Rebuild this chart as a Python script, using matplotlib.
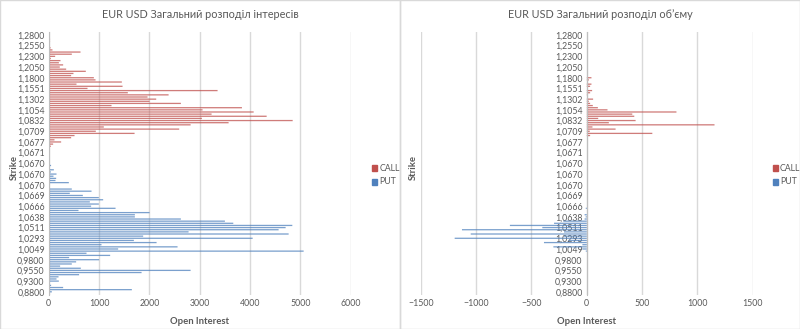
import numpy as np
import matplotlib
matplotlib.use("Agg")
import matplotlib.pyplot as plt
from matplotlib.patches import Rectangle

plt.rcParams['font.family'] = ['Lato', 'DejaVu Sans']

# strike labels shown on the axis (every 5th row, top to bottom)
strike_labels = ['1,2800', '1,2550', '1,2300', '1,2050', '1,1800', '1,1551', '1,1302',
                 '1,1054', '1,0832', '1,0709', '1,0677', '1,0671', '1,0670', '1,0670',
                 '1,0670', '1,0669', '1,0666', '1,0638', '1,0511', '1,0293', '1,0049',
                 '0,9800', '0,9550', '0,9300', '0,8800']

# open interest per strike row, top to bottom
call_oi = [0, 0, 20, 25, 25, 20, 0, 35, 73, 630,
           457, 126, 40, 232, 200, 285, 218, 345, 735, 490,
           444, 895, 928, 1451, 550, 1465, 769, 3353, 1570, 2380,
           1962, 2134, 2002, 2624, 1246, 3837, 3055, 4070, 3234, 4328,
           3042, 4845, 3572, 2817, 1093, 2591, 934, 1704, 511, 444,
           113, 245, 86, 40, 0, 12, 10, 0, 10, 0,
           0, 0, 0, 0, 0, 0, 0, 0, 0, 0,
           0, 0, 0, 0, 0, 0, 0, 0, 0, 0,
           0, 0, 0, 0, 0, 0, 0, 0, 0, 0,
           0, 0, 0, 0, 0, 0, 0, 0, 0, 0,
           0, 0, 0, 0, 0, 0, 0, 0, 0, 0,
           0, 0, 0, 0, 0, 0, 0, 0, 0, 0,
           0, 0, 0]
put_oi = [0, 0, 0, 0, 0, 0, 0, 0, 0, 0,
          0, 0, 0, 0, 0, 0, 0, 0, 0, 0,
          0, 0, 0, 0, 0, 0, 0, 0, 0, 0,
          0, 0, 0, 0, 0, 0, 0, 0, 0, 0,
          0, 0, 0, 0, 0, 0, 0, 0, 0, 0,
          0, 0, 0, 0, 0, 0, 0, 0, 0, 0,
          0, 0, 45, 0, 100, 40, 153, 93, 146, 133,
          398, 0, 10, 457, 849, 417, 676, 994, 1080, 815,
          994, 841, 1326, 590, 2002, 1710, 1710, 2624, 3499, 3665,
          4838, 4705, 4566, 2777, 4765, 1875, 4050, 1690, 2141, 1047,
          2558, 1378, 5063, 749, 1219, 404, 1000, 543, 457, 225,
          636, 2817, 1843, 602, 193, 153, 199, 20, 46, 285,
          1650, 60, 0]

# traded volume per strike row, top to bottom
call_vol = [0, 0, 0, 0, 0, 0, 0, 0, 0, 0,
            0, 0, 0, 0, 0, 0, 0, 0, 0, 0,
            0, 42, 18, 0, 42, 30, 0, 48, 30, 9,
            0, 57, 18, 30, 54, 100, 187, 810, 411, 429,
            103, 441, 199, 1154, 51, 260, 27, 592, 30, 0] + [0] * 73
put_vol = [0] * 82 + [9, 0, 0, 20, 10, 20, 212, 296,
                      695, 402, 1128, 206, 1049, 206, 1194, 167, 387, 40,
                      302, 40, 9] + [0] * 20

red = '#C0504D'
blue = '#4F81BD'
grey_txt = '#595959'
grid_c = '#D9D9D9'

fig = plt.figure(figsize=(8, 3.29), dpi=100)
rows = np.arange(len(call_oi))
tick_rows = np.arange(1, len(call_oi), 5)


def style(ax, xticks):
    ax.set_ylim(len(rows) - 0.5, -0.5)
    ax.set_xticks(xticks)
    ax.set_yticks(tick_rows)
    ax.set_yticklabels(strike_labels)
    ax.tick_params(length=0, labelsize=6.3, colors=grey_txt, pad=3)
    ax.grid(axis='x', color=grid_c, linewidth=1)
    ax.set_axisbelow(True)
    for s in ['top', 'right', 'bottom']:
        ax.spines[s].set_visible(False)
    ax.spines['left'].set_color('#BFBFBF')
    ax.set_xlabel('Open Interest', fontsize=6.8, fontweight='bold', color=grey_txt, labelpad=6)


def bars(ax, vals, c):
    ax.barh(rows, vals, height=0.6, color=c, alpha=0.75, linewidth=0, snap=False)


# open interest
ax1 = fig.add_axes([0.061, 0.1033, 0.3775, 0.8003])
bars(ax1, call_oi, red)
bars(ax1, put_oi, blue)
ax1.set_xlim(0, 6000)
style(ax1, np.arange(0, 6001, 1000))
fig.text(0.25, 0.957, 'EUR USD Загальний розподіл інтересів', ha='center', va='center',
         fontsize=7.8, color=grey_txt)
fig.text(0.018, 0.49, 'Strike', rotation=90, ha='center', va='center',
         fontsize=6.8, fontweight='bold', color=grey_txt)

# volume
ax2 = fig.add_axes([0.526, 0.1033, 0.415, 0.8003])
bars(ax2, call_vol, red)
bars(ax2, -np.array(put_vol), blue)
ax2.set_xlim(-1500, 1500)
style(ax2, np.arange(-1500, 1501, 500))
ax2.spines['left'].set_position(('data', 0))
fig.text(0.75, 0.957, 'EUR USD Загальний розподіл обʼєму', ha='center', va='center',
         fontsize=7.8, color=grey_txt)
fig.text(0.517, 0.49, 'Strike', rotation=90, ha='center', va='center',
         fontsize=6.8, fontweight='bold', color=grey_txt)

# legends
for lx in (0.465, 0.966):
    for ly, name, c in ((0.489, 'CALL', red), (0.447, 'PUT', blue)):
        fig.patches.append(Rectangle((lx, ly - 0.008), 0.006, 0.016,
                                     transform=fig.transFigure, color=c))
        fig.text(lx + 0.009, ly, name, ha='left', va='center', fontsize=6.3, color=grey_txt)

# chart frames
for x0 in (0.0, 0.5):
    fig.patches.append(Rectangle((x0 + 0.0006, 0.0015), 0.4988, 0.997, transform=fig.transFigure,
                                 fill=False, edgecolor=grid_c, linewidth=1))

fig.savefig('out.png', dpi=100)
